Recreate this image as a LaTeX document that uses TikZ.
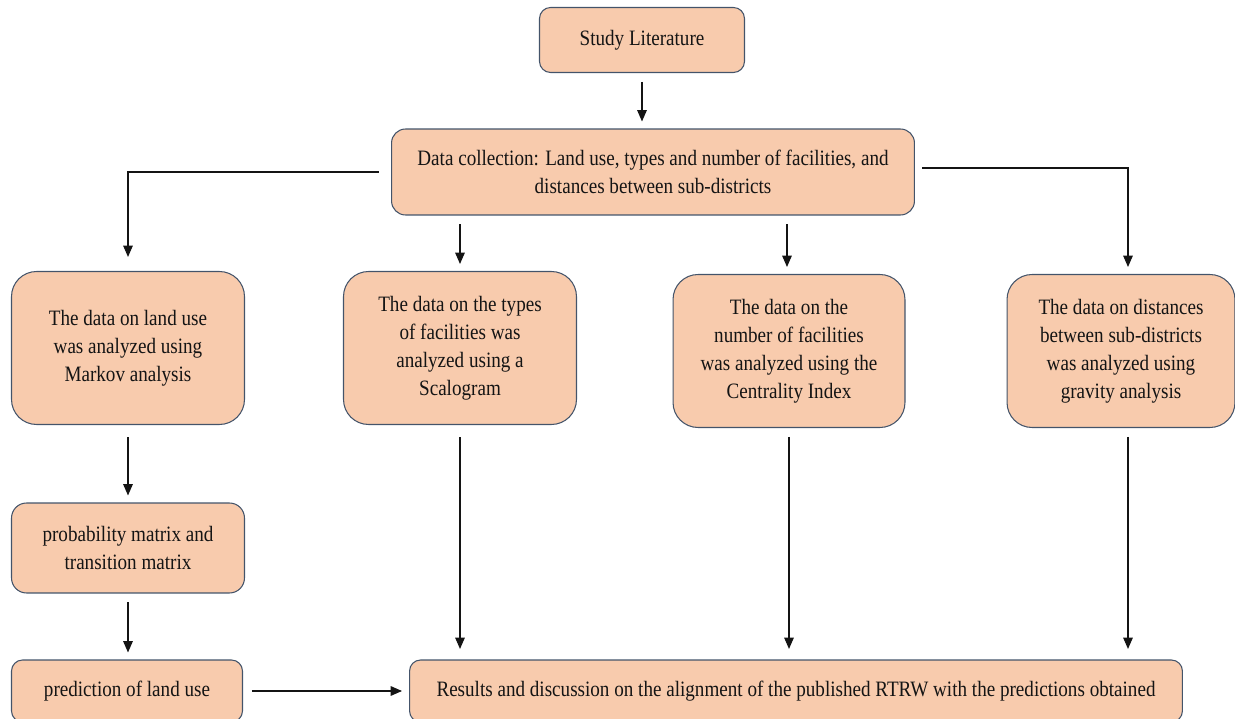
\documentclass[tikz,border=0pt]{standalone}
\usepackage{fontspec}
\setmainfont{Liberation Serif}[FakeStretch=0.87]
\usetikzlibrary{arrows.meta}
\definecolor{boxfill}{RGB}{248,203,173}
\definecolor{boxline}{RGB}{68,84,106}
\definecolor{inkline}{RGB}{20,20,20}

\begin{document}
\begin{tikzpicture}[x=0.02cm,y=-0.02cm,
    stepbox/.style={draw=boxline,fill=boxfill,line width=0.6pt,align=center,
      inner sep=0pt,text=inkline,font=\fontsize{12.5}{16}\selectfont},
    arr/.style={draw=inkline,line width=0.6pt,-{Triangle[length=6.5pt,width=5.5pt]},
      shorten <=5pt,shorten >=4pt}]
    \clip (0,0) rectangle (1235,719);
    %TOP
    \node[stepbox,minimum width=4.1cm,minimum height=1.3cm,rounded corners=0.22cm] (study) at (642,40) {Study Literature};
    \node[stepbox,minimum width=10.46cm,minimum height=1.72cm,rounded corners=0.28cm] (data) at (653,172)
      {Data collection: Land use, types and number of facilities, and\\distances between sub-districts};
    %ANALYSIS ROW
    \node[stepbox,minimum width=4.66cm,minimum height=3.06cm,rounded corners=0.5cm] (markov) at (128,348)
      {The data on land use\\was analyzed using\\Markov analysis};
    \node[stepbox,minimum width=4.66cm,minimum height=3.06cm,rounded corners=0.5cm] (scalo) at (460,348)
      {The data on the types\\of facilities was\\analyzed using a\\Scalogram};
    \node[stepbox,minimum width=4.64cm,minimum height=3.06cm,rounded corners=0.5cm] (central) at (789,351)
      {The data on the\\number of facilities\\was analyzed using the\\Centrality Index};
    \node[stepbox,minimum width=4.56cm,minimum height=3.06cm,rounded corners=0.5cm] (gravity) at (1121,351)
      {The data on distances\\between sub-districts\\was analyzed using\\gravity analysis};
    %MARKOV BRANCH
    \node[stepbox,minimum width=4.66cm,minimum height=1.8cm,rounded corners=0.3cm] (prob) at (128,548)
      {probability matrix and\\transition matrix};
    \node[stepbox,minimum width=4.62cm,minimum height=1.24cm,rounded corners=0.22cm] (predict) at (127,691)
      {prediction of land use};
    %RESULTS (cut at the bottom edge)
    \node[stepbox,minimum width=15.46cm,minimum height=1.24cm,rounded corners=0.22cm] (results) at (796,691)
      {Results and discussion on the alignment of the published RTRW with the predictions obtained};
    %ARROW ANCHORS
    \coordinate (gravtop) at ([xshift=0.14cm]gravity.north);
    \coordinate (gravbot) at ([xshift=0.14cm]gravity.south);
    %ARROWS
    \draw[arr] (study) -- (study |- data.north);
    \draw[arr,shorten <=7pt,shorten >=8pt] (data.west) -| (markov.north);
    \draw[arr,shorten <=4pt] ([yshift=0.08cm]data.east) -| (gravtop);
    \draw[arr] (data.south -| scalo.north) -- (scalo.north);
    \draw[arr] ([xshift=-0.04cm]data.south -| central.north) -- ([xshift=-0.04cm]central.north);
    \draw[arr,shorten <=7pt] (markov) -- (prob);
    \draw[arr] (prob) -- (prob |- predict.north);
    \draw[arr] (predict) -- (predict.east -| results.west);
    \draw[arr,shorten <=7pt,shorten >=6pt] (scalo.south) -- (results.north -| scalo.south);
    \draw[arr,shorten <=5pt,shorten >=6pt] (central.south) -- (results.north -| central.south);
    \draw[arr,shorten <=5pt,shorten >=6pt] (gravbot) -- (results.north -| gravbot);
\end{tikzpicture}
\end{document}
